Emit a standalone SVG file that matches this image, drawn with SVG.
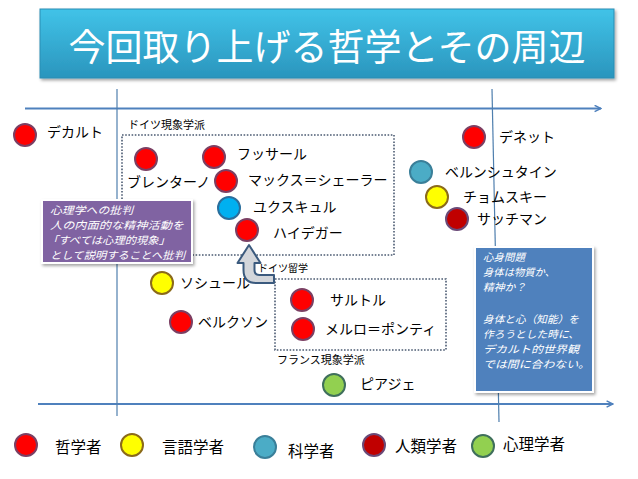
<svg xmlns="http://www.w3.org/2000/svg" width="638" height="479" viewBox="0 0 638 479">
<style>
text{font-family:"Noto Sans CJK JP","Liberation Sans",sans-serif;}
.lbl{font-size:14px;fill:#000;}
.sm{font-size:11px;fill:#000;}
.lg{font-size:15.5px;fill:#000;}
.note{font-size:10.3px;fill:#fff;font-style:italic;}
.axis{stroke:#4f81bd;stroke-width:2;fill:none;}
.vline{stroke:#4f7fae;stroke-width:1.2;fill:none;}
.dot{fill:none;stroke:#4b5b72;stroke-width:1.6;stroke-dasharray:1.6 1.6;}
.phil{fill:#ff0000;stroke:#7b3f63;stroke-width:2;}
.ling{fill:#ffff00;stroke:#8b6a1a;stroke-width:2;}
.sci{fill:#4bacc6;stroke:#3a7f99;stroke-width:2;}
.bio{fill:#00b0f0;stroke:#2b6e9c;stroke-width:2;}
.anth{fill:#c00000;stroke:#6a4a78;stroke-width:2;}
.psy{fill:#92d050;stroke:#3f6f5c;stroke-width:2;}
</style>
<defs>
<linearGradient id="tg" x1="0" y1="0" x2="0" y2="1">
<stop offset="0" stop-color="#41c3e8"/>
<stop offset="1" stop-color="#2a95bd"/>
</linearGradient>
<filter id="sh" x="-10%" y="-10%" width="130%" height="130%">
<feDropShadow dx="1.5" dy="2" stdDeviation="1.5" flood-color="#000" flood-opacity="0.35"/>
</filter>
<marker id="chev" viewBox="0 0 10 10" refX="9" refY="5" markerWidth="8" markerHeight="8" markerUnits="userSpaceOnUse" orient="auto">
<path d="M1,1 L9,5 L1,9" fill="none" stroke="#4f81bd" stroke-width="1.8"/>
</marker>
</defs>
<rect width="638" height="479" fill="#fff"/>

<g id="title">
<rect x="40" y="9" width="574" height="69" fill="url(#tg)" stroke="#2b8db3" stroke-width="1" filter="url(#sh)"/>
<text x="327" y="61" text-anchor="middle" font-size="37" fill="#fff">今回取り上げる哲学とその周辺</text>
</g>

<g id="axes">
<line class="axis" x1="25" y1="108.5" x2="601" y2="108.5" marker-end="url(#chev)"/>
<line class="axis" x1="38" y1="404" x2="613" y2="404" marker-end="url(#chev)"/>
<line class="vline" x1="117" y1="89" x2="117" y2="416"/>
<line class="vline" x1="492" y1="89" x2="499" y2="422"/>
</g>

<g id="german-school">
<rect class="dot" x="122" y="135" width="272" height="120"/>
<text class="sm" x="128" y="129">ドイツ現象学派</text>
</g>
<g id="french-school">
<rect class="dot" x="275" y="279" width="171" height="71"/>
<text class="sm" x="277" y="364">フランス現象学派</text>
</g>

<g id="connectors">
<path d="M249,245 L260.5,263 L254.5,263 L254.5,270 Q254.5,275 259.5,275 L274,275 L274,283 L256,283 Q243.5,283 243.5,270 L243.5,263 L237.5,263 Z" fill="#d3d6db" stroke="#3b5a7e" stroke-width="2" stroke-linejoin="round"/>
<text x="258" y="272" font-size="10" fill="#000">ドイツ留学</text>
</g>

<g id="descartes"><circle class="phil" cx="25" cy="135" r="11"/><text class="lbl" x="47" y="137">デカルト</text></g>
<g id="brentano"><circle class="phil" cx="146" cy="159" r="11"/><text class="lbl" x="127" y="187">ブレンターノ</text></g>
<g id="husserl"><circle class="phil" cx="214" cy="157" r="11"/><text class="lbl" x="237" y="159">フッサール</text></g>
<g id="scheler"><circle class="phil" cx="226" cy="181" r="11"/><text class="lbl" x="248" y="185">マックス＝シェーラー</text></g>
<g id="uexkull"><circle class="bio" cx="229" cy="208" r="11"/><text class="lbl" x="253" y="212">ユクスキュル</text></g>
<g id="heidegger"><circle class="phil" cx="247" cy="230" r="11"/><text class="lbl" x="273" y="238">ハイデガー</text></g>
<g id="dennett"><circle class="phil" cx="474" cy="137" r="11"/><text class="lbl" x="499" y="142">デネット</text></g>
<g id="bernstein"><circle class="sci" cx="421" cy="172" r="11"/><text class="lbl" x="445" y="177">ベルンシュタイン</text></g>
<g id="chomsky"><circle class="ling" cx="437" cy="197" r="11"/><text class="lbl" x="463" y="202">チョムスキー</text></g>
<g id="suchman"><circle class="anth" cx="457" cy="219" r="11"/><text class="lbl" x="477" y="224">サッチマン</text></g>
<g id="saussure"><circle class="ling" cx="162" cy="283" r="11"/><text class="lbl" x="180" y="288">ソシュール</text></g>
<g id="bergson"><circle class="phil" cx="181" cy="322" r="11"/><text class="lbl" x="198" y="327">ベルクソン</text></g>
<g id="sartre"><circle class="phil" cx="302" cy="300" r="11"/><text class="lbl" x="330" y="305">サルトル</text></g>
<g id="merleau-ponty"><circle class="phil" cx="303" cy="329" r="11"/><text class="lbl" x="325" y="334">メルロ＝ポンティ</text></g>
<g id="piaget"><circle class="psy" cx="334" cy="385" r="11"/><text class="lbl" x="360" y="389">ピアジェ</text></g>

<g id="note-psychology">
<rect x="42" y="200" width="150" height="63" fill="#8064a2" stroke="#fff" stroke-width="2" filter="url(#sh)"/>
<text class="note" x="50" y="213.5" textLength="83" lengthAdjust="spacingAndGlyphs">心理学への批判</text>
<text class="note" x="50" y="228.5" textLength="134" lengthAdjust="spacingAndGlyphs">人の内面的な精神活動を</text>
<text class="note" x="47" y="243.5" textLength="123" lengthAdjust="spacingAndGlyphs">「すべては心理的現象」</text>
<text class="note" x="50" y="258.5" textLength="135" lengthAdjust="spacingAndGlyphs">として説明することへ批判</text>
</g>

<g id="note-mindbody">
<rect x="475" y="247" width="118" height="145" fill="#4f81bd" stroke="#fff" stroke-width="2" filter="url(#sh)"/>
<text class="note" x="483" y="261" textLength="42" lengthAdjust="spacingAndGlyphs">心身問題</text>
<text class="note" x="483" y="276" textLength="72" lengthAdjust="spacingAndGlyphs">身体は物質か、</text>
<text class="note" x="483" y="291" textLength="43" lengthAdjust="spacingAndGlyphs">精神か？</text>
<text class="note" x="483" y="323" textLength="96" lengthAdjust="spacingAndGlyphs">身体と心（知能）を</text>
<text class="note" x="483" y="338" textLength="96" lengthAdjust="spacingAndGlyphs">作ろうとした時に、</text>
<text class="note" x="483" y="353" textLength="96" lengthAdjust="spacingAndGlyphs">デカルト的世界観</text>
<text class="note" x="483" y="368" textLength="107" lengthAdjust="spacingAndGlyphs">では間に合わない。</text>
</g>

<g id="legend">
<g id="legend-phil"><circle class="phil" cx="26" cy="445" r="11"/><text class="lg" x="55" y="453">哲学者</text></g>
<g id="legend-ling"><circle class="ling" cx="132" cy="445" r="11"/><text class="lg" x="162" y="453">言語学者</text></g>
<g id="legend-sci"><circle class="sci" cx="265" cy="447" r="11"/><text class="lg" x="288" y="457">科学者</text></g>
<g id="legend-anth"><circle class="anth" cx="374" cy="445" r="11"/><text class="lg" x="395" y="452">人類学者</text></g>
<g id="legend-psy"><circle class="psy" cx="483" cy="446" r="11"/><text class="lg" x="503" y="450">心理学者</text></g>
</g>
</svg>
